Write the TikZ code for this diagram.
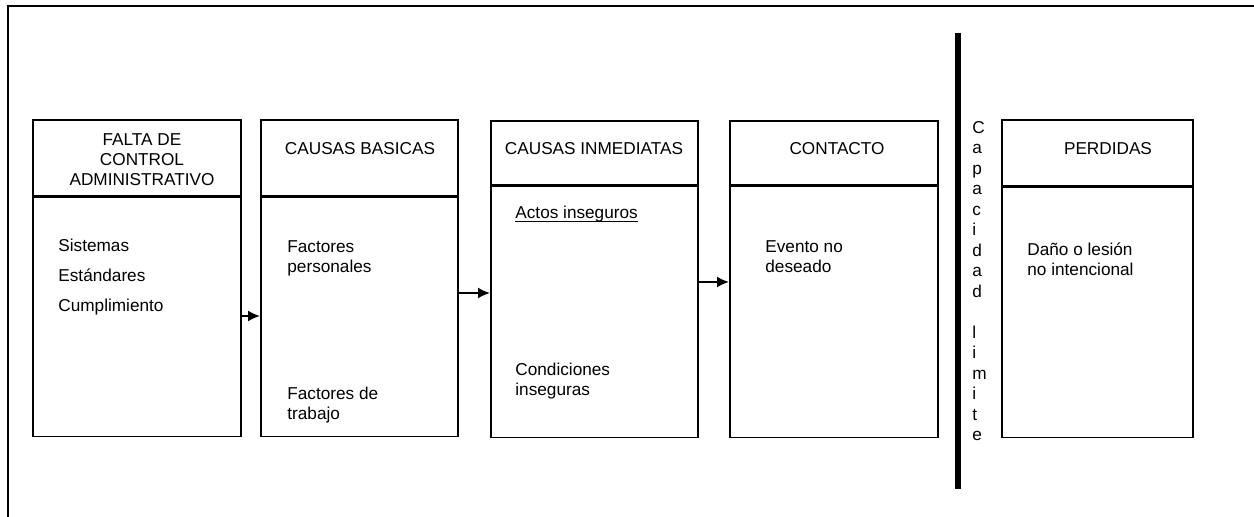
\documentclass[tikz,border=0pt]{standalone}
\usepackage{fontspec}
\setmainfont{Liberation Sans}
\usetikzlibrary{arrows.meta}

\begin{document}
\begin{tikzpicture}[x=0.5pt,y=-0.5pt]
        % Styles
        \tikzstyle{box line}=[draw,line width=0.8pt,anchor=north west,inner sep=0pt]
        \tikzstyle{title text}=[inner sep=0pt,align=center,font=\fontsize{8.6}{10}\selectfont]
        \tikzstyle{item text}=[inner sep=0pt,align=left,anchor=north west,font=\fontsize{8.6}{10}\selectfont]
        \tikzstyle{flow arrow}=[line width=0.9pt,-{Latex[length=6pt,width=5.5pt]}]
        \tikzstyle{limit bar}=[line width=3pt]
        %The graphic
        \fill[white] (0,0) rectangle (1254,517);
        \useasboundingbox (0,0) rectangle (1254,517);
        %frame
        \draw[line width=1pt] (8,517) |- (1254,6);
        %boxes
        \node[box line,minimum width=104pt,minimum height=38pt] (h1) at (32,119) {};
        \node[box line,minimum width=104pt,minimum height=119.5pt] (b1) at (h1.south west) {};
        \node[box line,minimum width=98.5pt,minimum height=38pt] (h2) at (260,119) {};
        \node[box line,minimum width=98.5pt,minimum height=119.5pt] (b2) at (h2.south west) {};
        \node[box line,minimum width=103.5pt,minimum height=32pt] (h3) at (490,120) {};
        \node[box line,minimum width=103.5pt,minimum height=125.5pt] (b3) at (h3.south west) {};
        \node[box line,minimum width=104pt,minimum height=32pt] (h4) at (729,120) {};
        \node[box line,minimum width=104pt,minimum height=125.5pt] (b4) at (h4.south west) {};
        \node[box line,minimum width=95.5pt,minimum height=33pt] (h5) at (1001,119) {};
        \node[box line,minimum width=95.5pt,minimum height=125pt] (b5) at (h5.south west) {};
        %titles
        \node[title text,anchor=north] (t1) at (142,133) {FALTA DE\\CONTROL\\ADMINISTRATIVO};
        \node[title text,anchor=base] (t2) at (360,155) {CAUSAS BASICAS};
        \node[title text,anchor=base] (t3) at (594,155) {CAUSAS INMEDIATAS};
        \node[title text,anchor=base] (t4) at (837,155) {CONTACTO};
        \node[title text,anchor=base] (t5) at (1108,155) {PERDIDAS};
        %contents
        \foreach \y/\itemtext in {252/Sistemas,282/Estándares,312/Cumplimiento}
            \node[item text,anchor=base west] (i\y) at (58,\y) {\itemtext};
        \node[item text] (f1) at (287,240) {Factores\\personales};
        \node[item text] (f2) at (287,387) {Factores de\\trabajo};
        \node[item text,anchor=base west] (a1) at (515,219) {Actos inseguros};
        \draw[line width=0.5pt] ([yshift=-1.3pt]a1.base west) -- ([yshift=-1.3pt]a1.base east);
        \node[item text] (c1) at (515,363) {Condiciones\\inseguras};
        \node[item text] (e1) at (765,240) {Evento no\\deseado};
        \node[item text] (d1) at (1027,242) {Daño o lesión\\no intencional};
        %limit
        \draw[limit bar] (958,33) -- (958,489);
        \node[item text,font=\fontsize{8.6}{10.25}\selectfont] (cap) at (972,121)
            {C\\a\\p\\a\\c\\i\\d\\a\\d\\\mbox{}\\l\\i\\m\\i\\t\\e};
        %arrows
        \coordinate (y1) at (0,316);
        \coordinate (y2) at (0,293);
        \coordinate (y3) at (0,282);
        \draw[flow arrow] (b1.east |- y1) -- (b2.west |- y1);
        \draw[flow arrow] (b2.east |- y2) -- (b3.west |- y2);
        \draw[flow arrow] (b3.east |- y3) -- (b4.west |- y3);
\end{tikzpicture}
\end{document}
